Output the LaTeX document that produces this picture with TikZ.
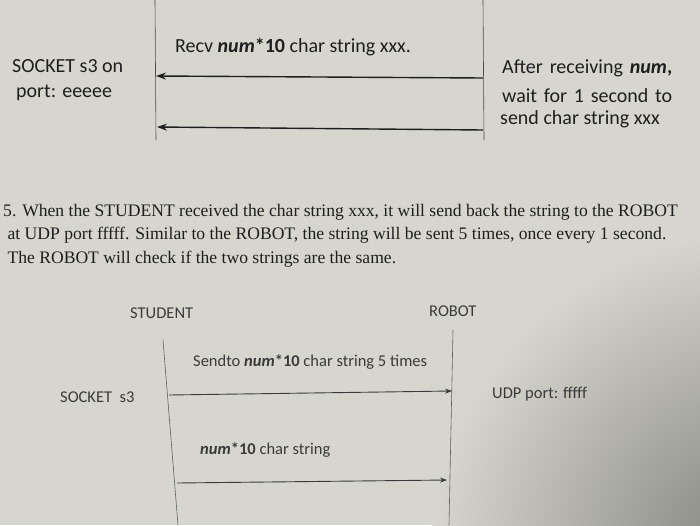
\documentclass[tikz,border=0pt]{standalone}
\usepackage{fontspec}
\setmainfont{Carlito}
\newfontfamily\serifpara{Liberation Serif}
\usetikzlibrary{arrows.meta}
\definecolor{screen}{HTML}{D6D6CE}
\definecolor{ink}{HTML}{1E1E1E}
\definecolor{inkb}{HTML}{3A3A3A}
\begin{document}
\begin{tikzpicture}[x=1pt,y=-1pt,
  lifeline/.style={draw=ink!80,line width=0.6pt},
  msg/.style={draw=ink,line width=1.4pt,-{Stealth[length=10pt,width=7pt]}},
  msgb/.style={draw=inkb,line width=0.9pt,-{Stealth[length=7pt,width=5pt]}},
  lbl/.style={font=\fontsize{20}{26}\selectfont,text=ink,inner sep=0pt},
  lblb/.style={font=\fontsize{16.5}{20}\selectfont,text=inkb,inner sep=0pt},
  para/.style={font=\serifpara\fontsize{17.6}{23.5}\selectfont,text=ink,inner sep=0pt,align=left}]
\useasboundingbox (0,0) rectangle (700,525);
\fill[screen] (0,0) rectangle (700,525);
\begin{scope}
\clip (0,0) rectangle (700,525);
\shade[inner color=screen!60!black,outer color=screen] (760,560) circle (330);
\end{scope}
% top section
\coordinate (tl0) at (155,0); \coordinate (tl1) at (156,140);
\coordinate (tr0) at (483,0); \coordinate (tr1) at (484,140);
\draw[lifeline] (tl0) -- (tl1);
\draw[lifeline] (tr0) -- (tr1);
\coordinate (a1s) at (483,78); \coordinate (a1e) at (156,76);
\coordinate (a2s) at (483,130); \coordinate (a2e) at (157,127);
\draw[msg] (a1s) -- (a1e);
\draw[msg] (a2s) -- (a2e);
\node[lbl,anchor=west] (recv) at (175,47) {Recv \textbf{\textit{num}}\textbf{*10} char string xxx.};
\node[lbl,anchor=west] (sock1) at (12,66) {SOCKET s3 on};
\node[lbl,anchor=west] (sock2) at (16,93) {port: eeeee};
\node[lbl,anchor=west] (after1) at (502,68) {\makebox[170pt][s]{After\hfill receiving\hfill \textbf{\textit{num},}}};
\node[lbl,anchor=west] (after2) at (502,96) {\makebox[170pt][s]{wait\hfill for\hfill 1\hfill second\hfill to}};
\node[lbl,anchor=west] (after3) at (500,119) {send char string xxx};
% paragraph
\node[para,anchor=north west] (p) at (3,204) {5. When the STUDENT received the char string xxx, it will send back the string to the ROBOT\\
\ at UDP port fffff. Similar to the ROBOT, the string will be sent 5 times, once every 1 second.\\
\ The ROBOT will check if the two strings are the same.};
% bottom section
\node[lblb,anchor=west] (stu) at (130,313) {STUDENT};
\node[lblb,anchor=west] (rob) at (429,311) {ROBOT};
\coordinate (bl0) at (163,340); \coordinate (bl1) at (178,525);
\coordinate (br0) at (453,330); \coordinate (br1) at (449,525);
\draw[lifeline,draw=inkb!80] (bl0) -- (bl1);
\draw[lifeline,draw=inkb!80] (br0) -- (br1);
\node[lblb,anchor=west] (send) at (193,362) {Sendto \textbf{\textit{num}}\textbf{*10} char string 5 times};
\coordinate (b1s) at (169,395); \coordinate (b1e) at (452,391);
\coordinate (b2s) at (177,483); \coordinate (b2e) at (447,480);
\draw[msgb] (b1s) -- (b1e);
\draw[msgb] (b2s) -- (b2e);
\node[lblb,anchor=west] (s3) at (60,397) {SOCKET\ \ s3};
\node[lblb,anchor=west] (udp) at (492,394) {UDP port: fffff};
\node[lblb,anchor=west] (numc) at (200,450) {\textbf{\textit{num}}\textbf{*10} char string};
\end{tikzpicture}
\end{document}
